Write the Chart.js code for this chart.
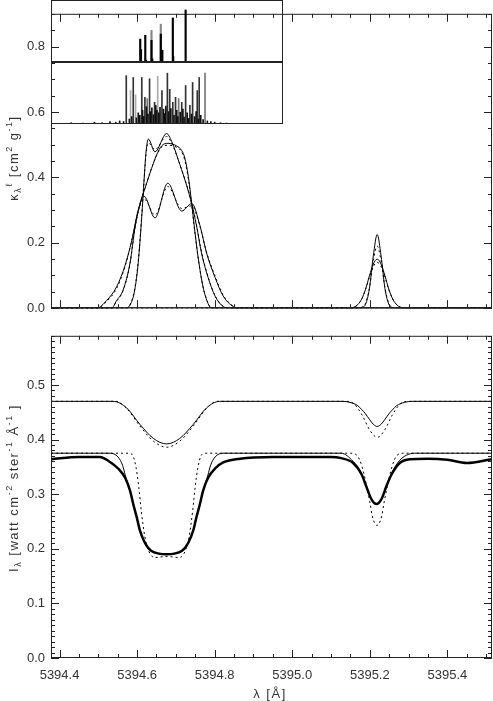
<!DOCTYPE html>
<html>
<head>
<meta charset="utf-8">
<script src="https://cdn.jsdelivr.net/npm/chart.js"></script>
<style>
  html, body { margin: 0; padding: 0; background: #fff; }
  #wrap { position: relative; width: 493px; height: 701px; }
  canvas { position: absolute; }
  #top { left: 0; top: 0; }
  #bottom { left: 0; top: 322px; }
  #inset { left: 51px; top: 0; }
</style>
</head>
<body>
<div id="wrap">
  <canvas id="top" width="493" height="322"></canvas>
  <canvas id="bottom" width="493" height="379"></canvas>
  <canvas id="inset" width="232" height="124"></canvas>
</div>
<script>
// ─────────────────────────────────────────
// data: opacity kappa (top panel)
// ─────────────────────────────────────────

const lamA = [5394.378, 5394.496, 5394.521, 5394.547, 5394.569, 5394.586, 5394.603, 5394.618, 5394.646, 5394.679, 5394.715, 5394.741, 5394.762, 5394.779, 5394.801, 5394.822, 5394.848, 5394.865, 5395.515];
const kapA  = [0, 0, 0.023, 0.065, 0.131, 0.206, 0.300, 0.342, 0.276, 0.382, 0.297, 0.320, 0.253, 0.169, 0.094, 0.037, 0.005, 0, 0];
const kapAd = [0, 0, 0.020, 0.060, 0.128, 0.206, 0.296, 0.334, 0.285, 0.372, 0.305, 0.313, 0.250, 0.172, 0.098, 0.040, 0.006, 0, 0];

const lamB = [5394.378, 5394.568, 5394.582, 5394.594, 5394.603, 5394.612, 5394.618, 5394.623, 5394.629, 5394.646, 5394.676, 5394.689, 5394.710, 5394.728, 5394.741, 5394.753, 5394.766, 5394.783, 5394.801, 5394.822, 5394.840, 5395.515];
const kapB  = [0, 0, 0.010, 0.056, 0.140, 0.280, 0.393, 0.478, 0.517, 0.478, 0.534, 0.510, 0.440, 0.374, 0.318, 0.253, 0.169, 0.094, 0.037, 0.005, 0, 0];
const kapBd = [0, 0, 0.012, 0.060, 0.146, 0.284, 0.392, 0.470, 0.505, 0.485, 0.525, 0.505, 0.440, 0.376, 0.320, 0.256, 0.172, 0.096, 0.038, 0.006, 0, 0];

const lamC = [5394.378, 5394.534, 5394.547, 5394.564, 5394.582, 5394.594, 5394.607, 5394.620, 5394.633, 5394.650, 5394.663, 5394.680, 5394.702, 5394.715, 5394.723, 5394.732, 5394.741, 5394.749, 5394.758, 5394.770, 5394.783, 5394.792, 5395.515];
const kapC  = [0, 0, 0.023, 0.056, 0.140, 0.243, 0.318, 0.365, 0.412, 0.468, 0.496, 0.504, 0.496, 0.482, 0.459, 0.403, 0.318, 0.234, 0.150, 0.065, 0.014, 0, 0];
const kapCd = [0, 0, 0.021, 0.054, 0.138, 0.240, 0.316, 0.366, 0.414, 0.466, 0.492, 0.498, 0.492, 0.478, 0.452, 0.396, 0.312, 0.230, 0.148, 0.066, 0.016, 0, 0];

const lamN = [5394.378, 5395.169, 5395.179, 5395.189, 5395.199, 5395.209, 5395.219, 5395.229, 5395.239, 5395.249, 5395.259, 5395.269, 5395.515];
const kapN  = [0, 0, 0.002, 0.012, 0.060, 0.160, 0.225, 0.160, 0.060, 0.012, 0.002, 0, 0];
const kapNd = [0, 0, 0.003, 0.015, 0.062, 0.145, 0.190, 0.145, 0.062, 0.015, 0.003, 0, 0];

const lamW = [5394.378, 5395.139, 5395.159, 5395.169, 5395.179, 5395.189, 5395.199, 5395.209, 5395.219, 5395.229, 5395.239, 5395.249, 5395.259, 5395.269, 5395.279, 5395.299, 5395.515];
const kapW  = [0, 0, 0.003, 0.011, 0.028, 0.058, 0.099, 0.135, 0.150, 0.135, 0.099, 0.058, 0.028, 0.011, 0.003, 0, 0];
const kapWd = [0, 0, 0.003, 0.011, 0.028, 0.057, 0.095, 0.127, 0.140, 0.127, 0.095, 0.057, 0.028, 0.011, 0.003, 0, 0];

// ─────────────────────────────────────────
// data: intensity I (bottom panel)
// ─────────────────────────────────────────

const lamU = [5394.378, 5394.538, 5394.573, 5394.607, 5394.642, 5394.676, 5394.710, 5394.745, 5394.779, 5394.813, 5395.129, 5395.149, 5395.169, 5395.179, 5395.189, 5395.199, 5395.209, 5395.219, 5395.229, 5395.239, 5395.249, 5395.259, 5395.269, 5395.289, 5395.309, 5395.515];
const intU = [0.470, 0.470, 0.458, 0.428, 0.402, 0.392, 0.402, 0.428, 0.458, 0.470, 0.470, 0.468, 0.462, 0.455, 0.447, 0.437, 0.428, 0.424, 0.428, 0.437, 0.447, 0.455, 0.462, 0.468, 0.470, 0.470];

const lamUd = [5394.378, 5394.545, 5394.573, 5394.607, 5394.642, 5394.676, 5394.710, 5394.745, 5394.779, 5394.806, 5395.140, 5395.160, 5395.180, 5395.201, 5395.219, 5395.237, 5395.258, 5395.278, 5395.298, 5395.515];
const intUd = [0.470, 0.470, 0.457, 0.425, 0.397, 0.386, 0.397, 0.425, 0.457, 0.470, 0.470, 0.465, 0.445, 0.416, 0.404, 0.416, 0.445, 0.465, 0.470, 0.470];

const lamT = [5394.378, 5394.450, 5394.504, 5394.530, 5394.551, 5394.569, 5394.582, 5394.590, 5394.599, 5394.607, 5394.620, 5394.637, 5394.676, 5394.715, 5394.732, 5394.745, 5394.753, 5394.762, 5394.770, 5394.783, 5394.801, 5394.822, 5394.865, 5394.950, 5395.100, 5395.126, 5395.157, 5395.179, 5395.192, 5395.204, 5395.217, 5395.230, 5395.243, 5395.256, 5395.277, 5395.303, 5395.350, 5395.400, 5395.450, 5395.515];
const intT = [0.364, 0.368, 0.368, 0.359, 0.347, 0.330, 0.306, 0.282, 0.258, 0.234, 0.211, 0.196, 0.190, 0.196, 0.211, 0.234, 0.258, 0.282, 0.306, 0.330, 0.347, 0.358, 0.365, 0.368, 0.368, 0.366, 0.357, 0.336, 0.312, 0.291, 0.282, 0.291, 0.315, 0.336, 0.357, 0.364, 0.365, 0.363, 0.357, 0.364];

const lamL = [5394.378, 5394.530, 5394.551, 5394.563, 5394.569, 5394.582, 5394.590, 5394.599, 5394.607, 5394.620, 5394.637, 5394.676, 5394.715, 5394.732, 5394.745, 5394.753, 5394.762, 5394.770, 5394.783, 5394.789, 5394.801, 5394.822, 5395.126, 5395.157, 5395.179, 5395.192, 5395.204, 5395.217, 5395.230, 5395.243, 5395.256, 5395.277, 5395.300, 5395.320, 5395.515];
const intL = [0.375, 0.375, 0.368, 0.352, 0.336, 0.306, 0.282, 0.258, 0.234, 0.211, 0.196, 0.190, 0.196, 0.211, 0.234, 0.258, 0.282, 0.306, 0.336, 0.352, 0.368, 0.375, 0.375, 0.360, 0.338, 0.312, 0.291, 0.283, 0.291, 0.315, 0.338, 0.362, 0.373, 0.375, 0.375];

const lamLd = [5394.378, 5394.580, 5394.590, 5394.597, 5394.604, 5394.611, 5394.620, 5394.630, 5394.645, 5394.677, 5394.709, 5394.724, 5394.734, 5394.743, 5394.750, 5394.757, 5394.764, 5394.774,
               5395.150, 5395.167, 5395.180, 5395.201, 5395.206, 5395.214, 5395.219, 5395.223, 5395.231, 5395.236, 5395.257, 5395.270, 5395.287, 5395.515];
const intLd = [0.375, 0.375, 0.369, 0.350, 0.315, 0.268, 0.222, 0.196, 0.184, 0.186, 0.184, 0.196, 0.222, 0.268, 0.315, 0.350, 0.369, 0.375,
               0.375, 0.371, 0.350, 0.282, 0.261, 0.245, 0.243, 0.245, 0.261, 0.282, 0.350, 0.371, 0.375, 0.375];

// ─────────────────────────────────────────
// data: inset line lists (relative strengths)
// ─────────────────────────────────────────

const hfsLam  = [5394.608, 5394.610, 5394.621, 5394.623, 5394.637, 5394.639, 5394.661, 5394.665, 5394.692, 5394.693, 5394.725];
const hfsH    = [0.37, 0.20, 0.43, 0.03, 0.35, 0.05, 0.45, 0.19, 0.71, 0.09, 0.84];
const hfsGrayLam = [5394.637, 5394.661];
const hfsGrayH   = [0.51, 0.61];

const compLam = [5394.572, 5394.590, 5394.612, 5394.620, 5394.632, 5394.645, 5394.664, 5394.678, 5394.684, 5394.692, 5394.699, 5394.715, 5394.725, 5394.736, 5394.743, 5394.755, 5394.760];
const compH   = [0.78, 0.75, 0.75, 0.43, 0.73, 0.35, 0.54, 0.82, 0.56, 0.35, 0.43, 0.35, 0.62, 0.30, 0.67, 0.54, 0.75];
const compMidLam = [5394.626, 5394.707, 5394.775];
const compMidH   = [0.41, 0.41, 0.82];
const compLightLam = [5394.583, 5394.596, 5394.653];
const compLightH   = [0.54, 0.47, 0.77];
const weakLam = [5394.400, 5394.430, 5394.460, 5394.490, 5394.510, 5394.530, 5394.545, 5394.555, 5394.565,
                 5394.580, 5394.586, 5394.598, 5394.603, 5394.607, 5394.614, 5394.617, 5394.624, 5394.628, 5394.634,
                 5394.638, 5394.642, 5394.648, 5394.651, 5394.656, 5394.659, 5394.668, 5394.671, 5394.674, 5394.681,
                 5394.687, 5394.695, 5394.702, 5394.705, 5394.711, 5394.718, 5394.721, 5394.729, 5394.733, 5394.740,
                 5394.748, 5394.752, 5394.758, 5394.764, 5394.770, 5394.781, 5394.790, 5394.800, 5394.815, 5394.830];
const weakH   = [0.01, 0.02, 0.015, 0.03, 0.02, 0.04, 0.03, 0.05, 0.04,
                 0.08, 0.12, 0.10, 0.18, 0.14, 0.22, 0.12, 0.28, 0.16, 0.20,
                 0.26, 0.15, 0.30, 0.22, 0.18, 0.27, 0.24, 0.17, 0.29, 0.20,
                 0.25, 0.14, 0.22, 0.12, 0.19, 0.24, 0.11, 0.18, 0.09, 0.16,
                 0.12, 0.20, 0.08, 0.14, 0.07, 0.05, 0.04, 0.03, 0.02, 0.015];

const X_MIN = 5394.378;
const X_MAX = 5395.515;
const INSET_MAX = 5394.976;

// ─────────────────────────────────────────
// helpers / plugins
// ─────────────────────────────────────────

const FONT = '"Liberation Sans", Arial, sans-serif';
const TXT = '#333';

function curve(lam, val, extra) {
  return Object.assign({
    data: lam.map((x, i) => ({ x, y: val[i] })),
    borderColor: '#000',
    borderWidth: 1,
    pointRadius: 0,
    fill: false,
    cubicInterpolationMode: 'monotone',
  }, extra || {});
}
const DOT = { borderDash: [2, 3] };

function spikes(lam, h, base, color, thick) {
  return {
    data: lam.map((x, i) => ({ x, y: [base, base + h[i]] })),
    backgroundColor: color,
    borderWidth: 0,
    barThickness: thick,
    grouped: false,
  };
}

// IDL style box with inward ticks on all four sides
const idlFrame = {
  id: 'idlFrame',
  afterDatasetsDraw(chart, args, o) {
    const { ctx, chartArea: a, scales: { x, y } } = chart;
    ctx.save();
    ctx.strokeStyle = '#222';
    ctx.lineWidth = 1;
    ctx.strokeRect(a.left + 0.5, a.top + 0.5, a.width - 1, a.height - 1);
    ctx.beginPath();
    for (let i = Math.ceil(x.min / o.xStep - 1e-6); i * o.xStep <= x.max + 1e-9; i++) {
      const px = Math.round(x.getPixelForValue(i * o.xStep)) + 0.5;
      const len = i % o.xMajor === 0 ? 8 : 4;
      ctx.moveTo(px, a.bottom); ctx.lineTo(px, a.bottom - len);
      ctx.moveTo(px, a.top); ctx.lineTo(px, a.top + len);
    }
    for (let i = Math.ceil(y.min / o.yStep - 1e-6); i * o.yStep <= y.max + 1e-9; i++) {
      const py = Math.round(y.getPixelForValue(i * o.yStep)) + 0.5;
      const len = i % o.yMajor === 0 ? 8 : 4;
      ctx.moveTo(a.left, py); ctx.lineTo(a.left + len, py);
      ctx.moveTo(a.right, py); ctx.lineTo(a.right - len, py);
    }
    ctx.stroke();
    ctx.restore();
  }
};

// titles with sub/superscripts
const richText = {
  id: 'richText',
  afterDraw(chart, args, o) {
    const ctx = chart.ctx;
    o.items.forEach(it => {
      const fontOf = r => `${r.s ? 9 : 13}px ${FONT}`;
      ctx.save();
      if ('letterSpacing' in ctx) ctx.letterSpacing = '1.5px';
      let w = 0;
      it.runs.forEach(r => { ctx.font = fontOf(r); w += ctx.measureText(r.t).width; });
      ctx.translate(it.x, it.y);
      if (it.rotate) ctx.rotate(-Math.PI / 2);
      ctx.fillStyle = TXT;
      ctx.textBaseline = 'alphabetic';
      let cx = -w / 2;
      it.runs.forEach(r => {
        ctx.font = fontOf(r);
        const dy = r.s === 'sub' ? 3 : r.s === 'sup' ? -6 : 0;
        ctx.fillText(r.t, cx, 4.5 + dy);
        cx += ctx.measureText(r.t).width;
      });
      ctx.restore();
    });
  }
};

const tickFont = { family: FONT, size: 13 };

// ─────────────────────────────────────────
// top panel
// ─────────────────────────────────────────

new Chart(document.getElementById('top'), {
  type: 'line',
  data: {
    datasets: [
      curve(lamA, kapA), curve(lamA, kapAd, DOT),
      curve(lamB, kapB), curve(lamB, kapBd, DOT),
      curve(lamC, kapC), curve(lamC, kapCd, DOT),
      curve(lamN, kapN), curve(lamN, kapNd, DOT),
      curve(lamW, kapW), curve(lamW, kapWd, DOT),
    ],
  },
  options: {
    responsive: false,
    animation: false,
    layout: { padding: { top: 1, right: 1, left: 0, bottom: 0 } },
    plugins: {
      legend: { display: false },
      tooltip: { enabled: false },
      idlFrame: { xStep: 0.05, xMajor: 4, yStep: 0.05, yMajor: 4 },
      richText: {
        items: [{
          rotate: true, x: 13, y: 158,
          runs: [{ t: 'κ' }, { t: 'λ', s: 'sub' }, { t: 'ℓ', s: 'sup' }, { t: ' [cm' }, { t: '2', s: 'sup' },
                 { t: ' g' }, { t: '-1', s: 'sup' }, { t: ']' }],
        }],
      },
    },
    scales: {
      x: {
        type: 'linear', min: X_MIN, max: X_MAX,
        grid: { display: false, drawTicks: false },
        border: { display: false },
        ticks: { display: false },
        afterFit: s => { s.height = 2; },
      },
      y: {
        min: 0, max: 0.9,
        grid: { display: false, drawTicks: false },
        border: { display: false },
        ticks: { stepSize: 0.2, includeBounds: false, padding: 6, font: tickFont, color: TXT,
                 callback: v => v.toFixed(1) },
        afterFit: s => { s.width = 51; },
      },
    },
  },
  plugins: [idlFrame, richText],
});

// ─────────────────────────────────────────
// bottom panel
// ─────────────────────────────────────────

new Chart(document.getElementById('bottom'), {
  type: 'line',
  data: {
    datasets: [
      curve(lamU, intU), curve(lamUd, intUd, DOT),
      curve(lamT, intT, { borderWidth: 2.5 }),
      curve(lamL, intL), curve(lamLd, intLd, DOT),
    ],
  },
  options: {
    responsive: false,
    animation: false,
    layout: { padding: { top: 5, right: 1, left: 0, bottom: 0 } },
    plugins: {
      legend: { display: false },
      tooltip: { enabled: false },
      idlFrame: { xStep: 0.05, xMajor: 4, yStep: 0.01, yMajor: 10 },
      richText: {
        items: [
          {
            rotate: true, x: 13, y: 166,
            runs: [{ t: 'I' }, { t: 'λ', s: 'sub' }, { t: ' [watt cm' }, { t: '-2', s: 'sup' }, { t: ' ster' },
                   { t: '-1', s: 'sup' }, { t: ' Å' }, { t: '-1', s: 'sup' }, { t: ' ]' }],
          },
          { rotate: false, x: 270, y: 371, runs: [{ t: 'λ [Å]' }] },
        ],
      },
    },
    scales: {
      x: {
        type: 'linear', min: X_MIN, max: X_MAX,
        grid: { display: false, drawTicks: false },
        border: { display: false },
        ticks: { stepSize: 0.2, includeBounds: false, padding: 10, maxRotation: 0, autoSkip: false,
                 font: tickFont, color: TXT, callback: v => v.toFixed(1) },
        afterFit: s => { s.height = 43; },
      },
      y: {
        min: 0, max: 0.59,
        grid: { display: false, drawTicks: false },
        border: { display: false },
        ticks: { stepSize: 0.1, includeBounds: false, padding: 6, font: tickFont, color: TXT,
                 callback: v => v.toFixed(1) },
        afterFit: s => { s.width = 51; },
      },
    },
  },
  plugins: [idlFrame, richText],
});

// ─────────────────────────────────────────
// inset (line components)
// ─────────────────────────────────────────

const insetFrame = {
  id: 'insetFrame',
  afterDatasetsDraw(chart) {
    const { ctx, chartArea: a, scales: { y } } = chart;
    ctx.save();
    ctx.strokeStyle = '#222';
    ctx.lineWidth = 1;
    ctx.strokeRect(a.left + 0.5, a.top + 0.5, a.width - 1, a.height - 1);
    ctx.lineWidth = 2;
    ctx.beginPath();
    const py = Math.round(y.getPixelForValue(0));
    ctx.moveTo(a.left, py); ctx.lineTo(a.right, py);
    ctx.stroke();
    ctx.restore();
  }
};

new Chart(document.getElementById('inset'), {
  type: 'bar',
  data: {
    datasets: [
      spikes(hfsLam, hfsH, 0, '#000', 1.5),
      spikes(hfsGrayLam, hfsGrayH, 0, '#888', 1.5),
      spikes(weakLam, weakH, -1, '#111', 1),
      spikes(compLam, compH, -1, '#333', 1),
      spikes(compMidLam, compMidH, -1, '#777', 1),
      spikes(compLightLam, compLightH, -1, '#aaa', 1),
    ],
  },
  options: {
    responsive: false,
    animation: false,
    layout: { padding: 0 },
    plugins: { legend: { display: false }, tooltip: { enabled: false } },
    scales: {
      x: { type: 'linear', min: X_MIN, max: INSET_MAX, display: false, offset: false },
      y: { min: -1, max: 1, display: false },
    },
  },
  plugins: [insetFrame],
});
</script>
</body>
</html>
